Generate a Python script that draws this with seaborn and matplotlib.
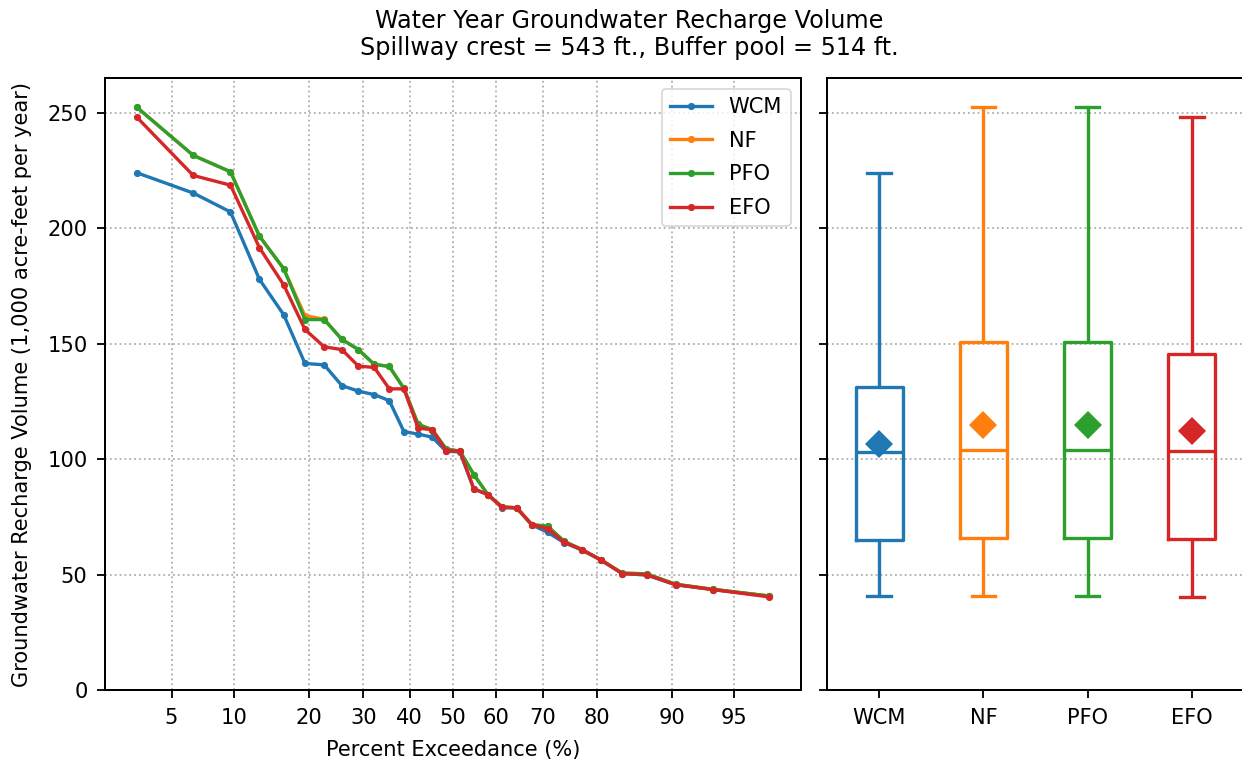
import numpy as np
import pandas as pd
import matplotlib
matplotlib.use("Agg")
import matplotlib.pyplot as plt
import matplotlib.ticker as mticker
import seaborn as sns
from statistics import NormalDist

# ---------------- data (sorted descending, 30 water years) ----------------
scenarios = ["WCM", "NF", "PFO", "EFO"]
colors = ["#1f77b4", "#ff7f0e", "#2ca02c", "#d62728"]

wcm = [224.0, 215.2, 207.0, 177.8, 162.5, 141.4, 140.8, 131.8, 129.4, 127.9,
       125.3, 111.9, 110.8, 109.5, 103.4, 103.1, 87.1, 84.6, 79.0, 78.8,
       71.5, 68.3, 63.8, 60.6, 56.2, 50.4, 49.8, 45.6, 43.5, 40.6]
nf = [252.4, 231.5, 224.4, 196.5, 182.4, 162.0, 160.6, 151.8, 147.4, 141.0,
      140.1, 130.6, 115.0, 112.7, 104.4, 103.4, 93.3, 84.6, 79.3, 78.9,
      71.6, 70.9, 64.4, 60.8, 56.3, 50.6, 50.3, 45.8, 43.6, 40.7]
pfo = [252.4, 231.5, 224.4, 196.5, 182.4, 160.4, 160.4, 151.8, 147.4, 141.0,
       140.1, 130.6, 115.0, 112.7, 104.4, 103.4, 93.3, 84.6, 79.3, 78.9,
       71.6, 70.9, 64.4, 60.8, 56.3, 50.6, 50.3, 45.8, 43.6, 40.7]
efo = [248.1, 222.8, 218.6, 191.5, 175.4, 156.1, 148.6, 147.4, 140.2, 139.7,
       130.4, 130.4, 113.4, 112.7, 103.6, 103.4, 87.1, 84.6, 79.1, 78.9,
       71.6, 69.8, 64.0, 60.8, 56.3, 50.4, 49.9, 45.6, 43.5, 40.3]
series = [wcm, nf, pfo, efo]

xticks = [5, 10, 20, 30, 40, 50, 60, 70, 80, 90, 95]
yticks = [0, 50, 100, 150, 200, 250]

# ---------------- tidy frames ----------------
rows = []
for name, vals in zip(scenarios, series):
    n = len(vals)
    for rank, v in enumerate(vals, start=1):
        rows.append({"Scenario": name,
                     "Exceedance": rank / (n + 1) * 100.0,
                     "Value": v})
df = pd.DataFrame(rows)

# ---------------- normal probability scale ----------------
_nd = NormalDist()
_ppf = np.vectorize(lambda q: _nd.inv_cdf(q) if np.isfinite(q) else np.nan, otypes=[float])
_cdf = np.vectorize(lambda z: _nd.cdf(z) if np.isfinite(z) else np.nan, otypes=[float])


def fwd(p):
    p = np.asarray(p, dtype=float)
    q = np.clip(p / 100.0, 1e-9, 1 - 1e-9)
    return _ppf(q)


def inv(z):
    z = np.asarray(z, dtype=float)
    return _cdf(z) * 100.0


# ---------------- figure ----------------
plt.rcParams["font.family"] = ["DejaVu Sans"]
FS = 12.6
W, H, DPI = 1242, 763, 120
fig = plt.figure(figsize=(W / DPI, H / DPI), dpi=DPI)
ax1 = fig.add_axes([105 / W, 1 - 690 / H, 696 / W, 612 / H])
ax2 = fig.add_axes([827 / W, 1 - 690 / H, 417 / W, 612 / H], sharey=ax1)

ax1.set_xscale("function", functions=(fwd, inv))

sns.lineplot(data=df, x="Exceedance", y="Value", hue="Scenario",
             hue_order=scenarios, palette=colors, marker="o",
             markersize=4.3, markeredgewidth=0, linewidth=2,
             errorbar=None, ax=ax1)

ax1.xaxis.set_major_locator(mticker.FixedLocator(xticks))
ax1.xaxis.set_major_formatter(mticker.FixedFormatter([str(t) for t in xticks]))
ax1.xaxis.set_minor_locator(mticker.NullLocator())
ax1.set_yticks(yticks)
ax1.set_ylim(0, 265)
ax1.grid(True, linestyle=":", color="#b0b0b0", linewidth=1.1, zorder=0)
ax1.set_axisbelow(True)
ax1.set_xlabel("Percent Exceedance (%)", fontsize=FS, labelpad=7.5)
ax1.set_ylabel("Groundwater Recharge Volume (1,000 acre-feet per year)",
               fontsize=FS, labelpad=9)
leg = ax1.legend(loc="upper right", fontsize=FS, title=None, labelspacing=0.65)

# ---------------- boxplot panel ----------------
sns.boxplot(data=df, x="Scenario", y="Value", hue="Scenario",
            order=scenarios, hue_order=scenarios, palette=colors,
            fill=False, whis=(0, 100), width=0.45, linewidth=2,
            showmeans=True,
            meanprops=dict(marker="D", markersize=12, markeredgewidth=0),
            legend=False, ax=ax2)

mean_lines = [ln for ln in ax2.lines if ln.get_marker() == "D"]
mean_lines.sort(key=lambda ln: float(np.asarray(ln.get_xdata())[0]))
for ln, c in zip(mean_lines, colors):
    ln.set_markerfacecolor(c)
    ln.set_markeredgecolor(c)
    ln.set_zorder(5)

ax2.set_xlim(-0.5, 3.5)
ax2.set_ylim(0, 265)
ax2.set_xlabel("")
ax2.set_ylabel("")
ax2.yaxis.grid(True, linestyle=":", color="#b0b0b0", linewidth=1.1, zorder=0)
ax2.set_axisbelow(True)
ax2.tick_params(labelleft=False)

for ax in (ax1, ax2):
    ax.tick_params(labelsize=FS, length=5, width=1.1, pad=5.5)
    for sp in ax.spines.values():
        sp.set_visible(True)
        sp.set_color("black")
        sp.set_linewidth(1.2)
        sp.set_zorder(10)

fig.text(629 / W, 1 - 9 / H,
         "Water Year Groundwater Recharge Volume\nSpillway crest = 543 ft., Buffer pool = 514 ft.",
         ha="center", va="top", fontsize=14.3, linespacing=1.15)

fig.savefig("out.png", dpi=DPI)
